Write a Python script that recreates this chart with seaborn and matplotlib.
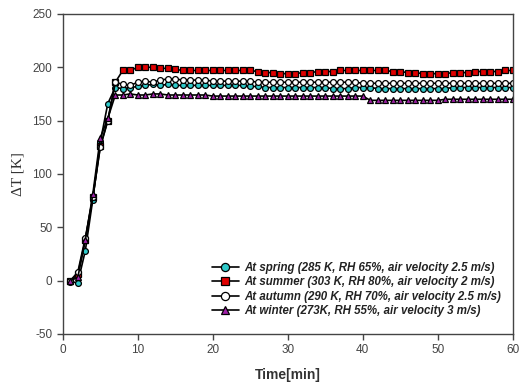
import numpy as np
import pandas as pd
import matplotlib
matplotlib.use("Agg")
import matplotlib.pyplot as plt
import seaborn as sns

# time in minutes (one reading per minute)
time_min = list(range(1, 61))

spring = [-1, -2, 28, 76, 130, 166, 181, 180, 181, 182,
          183, 184, 183, 184, 183, 183, 183, 183, 183, 183,
          183, 183, 183, 183, 182, 182, 181, 181, 181, 181,
          181, 181, 181, 181, 181, 180, 180, 180, 181, 181,
          181, 180, 180, 180, 180, 180, 180, 180, 180, 180,
          180, 181, 181, 181, 181, 181, 181, 181, 181, 181]
summer = [0, 6, 38, 78, 126, 150, 186, 197, 197, 200,
          200, 200, 199, 199, 198, 197, 197, 197, 197, 197,
          197, 197, 197, 197, 197, 196, 195, 195, 194, 194,
          194, 195, 195, 196, 196, 196, 197, 197, 197, 197,
          197, 197, 197, 196, 196, 195, 195, 194, 194, 194,
          194, 195, 195, 195, 196, 196, 196, 196, 197, 197]
autumn = [0, 8, 40, 78, 125, 150, 186, 184, 183, 186,
          187, 186, 188, 189, 189, 188, 188, 188, 188, 187,
          187, 187, 187, 187, 187, 186, 186, 186, 186, 186,
          186, 186, 186, 186, 186, 186, 186, 186, 186, 185,
          185, 185, 185, 185, 185, 185, 185, 185, 185, 185,
          185, 185, 185, 185, 185, 185, 185, 185, 185, 185]
winter = [0, 3, 38, 81, 134, 152, 174, 174, 175, 174,
          174, 175, 175, 174, 174, 174, 174, 174, 174, 173,
          173, 173, 173, 173, 173, 173, 173, 173, 173, 173,
          173, 173, 173, 173, 173, 173, 173, 173, 173, 173,
          169, 169, 169, 169, 169, 169, 169, 169, 169, 169,
          170, 170, 170, 170, 170, 170, 170, 170, 170, 170]

labels = ["At spring (285 K, RH 65%, air velocity 2.5 m/s)",
          "At summer (303 K, RH 80%, air velocity 2 m/s)",
          "At autumn (290 K, RH 70%, air velocity 2.5 m/s)",
          "At winter (273K, RH 55%, air velocity 3 m/s)"]
series = [spring, summer, autumn, winter]
face_colors = ["#2ec9c9", "#e00000", "white", "#a020a8"]
markers = ["o", "s", "o", "^"]
msizes = [4.2, 4.5, 4.2, 4.6]

sns.set_style("white")
plt.rcParams["font.family"] = ["Liberation Sans", "DejaVu Sans"]
plt.rcParams["axes.unicode_minus"] = False

fig = plt.figure(figsize=(5.19, 3.87), dpi=100)
ax = fig.add_axes([0.121, 0.137, 0.867, 0.827])

for vals, lab, fc, m, ms in zip(series, labels, face_colors, markers, msizes):
    df = pd.DataFrame({"t": time_min, "dT": vals})
    sns.lineplot(data=df, x="t", y="dT", ax=ax, color="black", lw=1.2,
                 marker=m, markersize=ms, markerfacecolor=fc,
                 markeredgecolor="black", markeredgewidth=0.9, label=lab)

ax.set_xlim(0, 60)
ax.set_ylim(-50, 250)
ax.set_xticks([0, 10, 20, 30, 40, 50, 60])
ax.set_yticks([-50, 0, 50, 100, 150, 200, 250])
for sp in ax.spines.values():
    sp.set_color("#444444")
    sp.set_linewidth(1.0)
ax.tick_params(direction="out", length=4, width=1, color="#444444",
               labelsize=8.5, labelcolor="#444444", bottom=True, left=True)

ax.set_xlabel("Time[min]", fontsize=10, fontweight="bold", color="#333333", labelpad=8)
ax.set_ylabel("\u0394T [K]", fontsize=11, family=["Liberation Serif", "DejaVu Serif"],
              color="#333333", labelpad=6)

leg = ax.legend(loc="lower right", bbox_to_anchor=(0.99, 0.03), frameon=False,
                prop={"size": 8.3, "weight": "bold", "style": "italic"},
                handlelength=2.3, labelspacing=0.22, handletextpad=0.5,
                borderaxespad=0.2, markerscale=1.4)
for t in leg.get_texts():
    t.set_color("#222222")

fig.savefig("out.png", dpi=100)
